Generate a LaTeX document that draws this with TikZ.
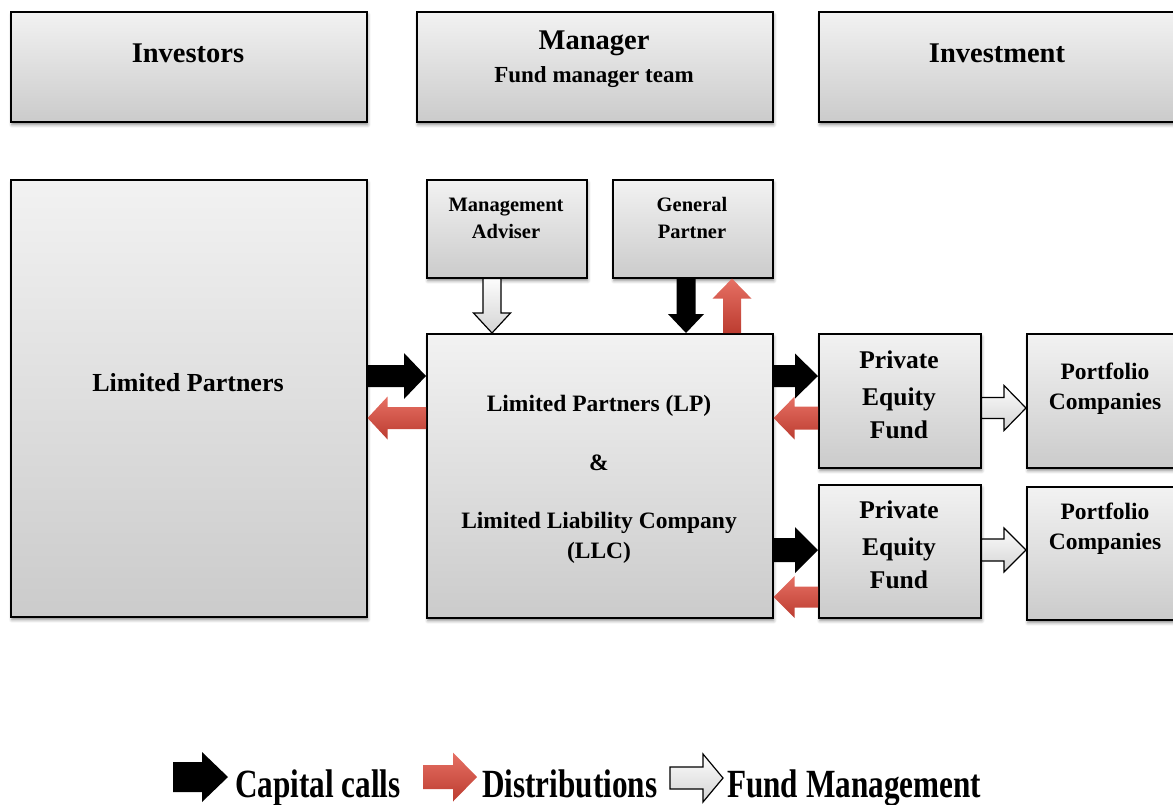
\documentclass[tikz,border=0pt]{standalone}
\usepackage{fontspec}
\setmainfont{Liberation Serif}
\newfontfamily\legendfont[FakeStretch=0.78]{Liberation Serif}
\usetikzlibrary{calc,shadows.blur}

\definecolor{boxtop}{RGB}{242,242,242}
\definecolor{boxbot}{RGB}{203,203,203}
\definecolor{redtop}{RGB}{230,112,100}
\definecolor{redbot}{RGB}{188,60,48}
\definecolor{whitetop}{RGB}{252,252,252}
\definecolor{whitebot}{RGB}{212,212,212}

\tikzset{
  panel/.style={draw=black, line width=1.6pt, top color=boxtop, bottom color=boxbot,
    anchor=north west, inner sep=0pt,
    blur shadow={shadow xshift=1pt, shadow yshift=-3pt, shadow blur radius=3pt, shadow opacity=45}},
  lbl/.style={font=\bfseries, anchor=base, inner sep=0pt},
  callarrow/.style={fill=black},
  distarrow/.style={top color=redtop, bottom color=redbot},
  mgmtarrow/.style={draw=black, line width=1.2pt, top color=whitetop, bottom color=whitebot, line join=miter},
}

% block arrow: [style]{tail}{tip}{shaft half width}{head half width}{head length}
\newcommand\blockarrow[6][]{%
  \path[#1] let \p1=#2, \p2=#3,
      \n1={atan2(\y2-\y1,\x2-\x1)}, \n2={veclen(\x2-\x1,\y2-\y1)} in
    ([shift={(\p1)},rotate=\n1]0pt,-#4pt)
    -- ([shift={(\p1)},rotate=\n1]\n2-#6pt,-#4pt)
    -- ([shift={(\p1)},rotate=\n1]\n2-#6pt,-#5pt)
    -- ([shift={(\p1)},rotate=\n1]\n2,0pt)
    -- ([shift={(\p1)},rotate=\n1]\n2-#6pt,#5pt)
    -- ([shift={(\p1)},rotate=\n1]\n2-#6pt,#4pt)
    -- ([shift={(\p1)},rotate=\n1]0pt,#4pt) -- cycle;%
}

\begin{document}
\begin{tikzpicture}[x=1pt,y=-1pt]
\useasboundingbox (0,0) rectangle (1173,804);

% column headers
\node[panel, minimum width=356pt, minimum height=110pt] (inv)  at (10,11) {};
\node[panel, minimum width=356pt, minimum height=110pt] (mgr)  at (416,11) {};
\node[panel, minimum width=366pt, minimum height=110pt] (invt) at (818,11) {};
\node[lbl, font=\fontsize{28.5}{32}\bfseries\selectfont] (tinv) at (188,62) {Investors};
\node[lbl, font=\fontsize{28.5}{32}\bfseries\selectfont] (tmgr) at (594,49) {Manager};
\node[lbl, font=\fontsize{23}{26}\bfseries\selectfont] (tteam) at (594,82) {Fund manager team};
\node[lbl, font=\fontsize{28.5}{32}\bfseries\selectfont] (tinvt) at (997,62) {Investment};

% structure boxes
\node[panel, minimum width=356pt, minimum height=437pt] (lp)  at (10,179) {};
\node[panel, minimum width=160pt, minimum height=98pt]  (ma)  at (426,179) {};
\node[panel, minimum width=160pt, minimum height=98pt]  (gp)  at (612,179) {};
\node[panel, minimum width=346pt, minimum height=284pt] (llc) at (426,333) {};
\node[panel, minimum width=162pt, minimum height=134pt] (pe1) at (818,333) {};
\node[panel, minimum width=160pt, minimum height=134pt] (pc1) at (1026,333) {};
\node[panel, minimum width=162pt, minimum height=133pt] (pe2) at (818,484) {};
\node[panel, minimum width=160pt, minimum height=133pt] (pc2) at (1026,486) {};

\begin{scope}[every node/.append style={lbl}]
\node[font=\fontsize{26}{28}\bfseries\selectfont] (tlp) at (188,391) {Limited Partners};
\node[font=\fontsize{20.5}{24}\bfseries\selectfont] (tma1) at (506,211) {Management};
\node[font=\fontsize{20.5}{24}\bfseries\selectfont] (tma2) at (506,238) {Adviser};
\node[font=\fontsize{20.5}{24}\bfseries\selectfont] (tgp1) at (692,211) {General};
\node[font=\fontsize{20.5}{24}\bfseries\selectfont] (tgp2) at (692,238) {Partner};
\node[font=\fontsize{23.5}{27}\bfseries\selectfont] (tllc1) at (599,411) {Limited Partners (LP)};
\node[font=\fontsize{23.5}{27}\bfseries\selectfont] (tllc2) at (599,470) {\&};
\node[font=\fontsize{23.5}{27}\bfseries\selectfont] (tllc3) at (599,528) {Limited Liability Company};
\node[font=\fontsize{23.5}{27}\bfseries\selectfont] (tllc4) at (599,558) {(LLC)};
\node[font=\fontsize{25.5}{28}\bfseries\selectfont] (tpe1a) at (899,368) {Private};
\node[font=\fontsize{25.5}{28}\bfseries\selectfont] (tpe1b) at (899,405) {Equity};
\node[font=\fontsize{25.5}{28}\bfseries\selectfont] (tpe1c) at (899,438) {Fund};
\node[font=\fontsize{25.5}{28}\bfseries\selectfont] (tpe2a) at (899,518) {Private};
\node[font=\fontsize{25.5}{28}\bfseries\selectfont] (tpe2b) at (899,555) {Equity};
\node[font=\fontsize{25.5}{28}\bfseries\selectfont] (tpe2c) at (899,588) {Fund};
\node[font=\fontsize{23.5}{27}\bfseries\selectfont] (tpc1a) at (1105,379) {Portfolio};
\node[font=\fontsize{23.5}{27}\bfseries\selectfont] (tpc1b) at (1105,409) {Companies};
\node[font=\fontsize{23.5}{27}\bfseries\selectfont] (tpc2a) at (1105,519) {Portfolio};
\node[font=\fontsize{23.5}{27}\bfseries\selectfont] (tpc2b) at (1105,549) {Companies};
\end{scope}

% flows between the boxes
\blockarrow[mgmtarrow]{(ma.south -| 492,0)}{(llc.north -| 492,0)}{9}{18.5}{20}
\blockarrow[callarrow]{(gp.south -| 686,0)}{(llc.north -| 686,0)}{9.5}{18}{19}
\blockarrow[distarrow]{(llc.north -| 732,0)}{(gp.south -| 732,0)}{9}{19.5}{20}

\blockarrow[callarrow]{(lp.east |- 0,376)}{(llc.west |- 0,376)}{11}{23}{22}
\blockarrow[distarrow]{(llc.west |- 0,418)}{(lp.east |- 0,418)}{11}{21.5}{20}

\blockarrow[callarrow]{(llc.east |- 0,376)}{(pe1.west |- 0,376)}{11}{22.5}{23}
\blockarrow[distarrow]{(pe1.west |- 0,418)}{(llc.east |- 0,418)}{11.5}{21.5}{21}
\blockarrow[callarrow]{(llc.east |- 0,550)}{(pe2.west |- 0,550)}{12}{23}{23}
\blockarrow[distarrow]{(pe2.west |- 0,597)}{(llc.east |- 0,597)}{10.5}{21}{21}

\blockarrow[mgmtarrow]{(pe1.east |- 0,408)}{(pc1.west |- 0,408)}{10.5}{22.5}{22}
\blockarrow[mgmtarrow]{(pe2.east |- 0,550)}{(pc2.west |- 0,550)}{11}{22}{22}

% legend
\node[lbl, anchor=base west, font=\fontsize{40}{44}\legendfont\bfseries] (lgcall) at (235,797) {Capital calls};
\node[lbl, anchor=base west, font=\fontsize{40}{44}\legendfont\bfseries] (lgdist) at (482,797) {Distributions};
\node[lbl, anchor=base west, font=\fontsize{40}{44}\legendfont\bfseries] (lgmgmt) at (727,797) {Fund Management};
\blockarrow[callarrow]{(173,777)}{(228,777)}{15}{25}{26}
\blockarrow[distarrow]{(423,777)}{(477,777)}{12}{24.5}{24}
\blockarrow[mgmtarrow]{(670,778)}{(723,778)}{11}{24}{20}
\end{tikzpicture}
\end{document}
